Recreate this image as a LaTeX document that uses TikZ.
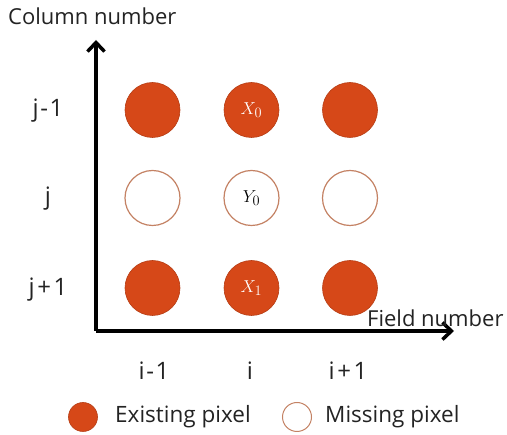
\documentclass[tikz,border=0pt]{standalone}
\usepackage{fontspec}
\setmainfont{Open Sans}
\usetikzlibrary{arrows.meta}
\definecolor{px}{RGB}{214,72,24}
\definecolor{pxedge}{RGB}{196,130,100}
\definecolor{txt}{RGB}{35,35,35}
\newcommand{\lsp}{\hspace{1.5pt}}
\newcommand{\psp}{\hspace{2.5pt}}
\tikzset{
  exist/.style={circle,fill=px,draw=px!85!black,line width=0.6pt,minimum size=55pt,inner sep=0pt,font=\fontsize{19}{22}\selectfont},
  missing/.style={circle,fill=white,draw=pxedge,line width=1.2pt,minimum size=55pt,inner sep=0pt,font=\fontsize{19}{22}\selectfont},
  axis/.style={line width=3.5pt,-{Straight Barb[length=9pt,width=17pt,line width=3.5pt]}},
  lab/.style={font=\fontsize{22}{26}\selectfont,inner sep=0pt,text=txt},
  leg/.style={font=\fontsize{22.5}{26}\selectfont,inner sep=0pt,text=txt},
  big/.style={font=\fontsize{24}{28}\selectfont,inner sep=0pt,text=txt},
}
\begin{document}
\begin{tikzpicture}[x=1pt,y=-1pt]
\useasboundingbox (0,0) rectangle (507,435);
\coordinate (o) at (96,331);
\coordinate (ytip) at (96,40);
\coordinate (xtip) at (454,331);
\draw[axis] (o) -- (ytip);
\draw[axis] (o) -- (xtip);
\node[lab,anchor=west] (ylab) at (8,16) {Column number};
\node[lab,anchor=west] (xlab) at (367,318) {Field number};
% circles
\node[exist] (a1) at (152.5,110) {};
\node[exist] (a2) at (251.5,110) {\color{white}$X_0$};
\node[exist] (a3) at (350,110) {};
\node[missing] (b1) at (152.5,198) {};
\node[missing] (b2) at (251.5,198) {$Y_0$};
\node[missing] (b3) at (350,198) {};
\node[exist] (c1) at (152.5,288) {};
\node[exist] (c2) at (251.5,288) {\color{white}$X_1$};
\node[exist] (c3) at (350,288) {};
% row labels
\node[big] (r1) at (48,111) {j\lsp-\lsp1};
\node[big] (r2) at (48,199) {j};
\node[big] (r3) at (48,290) {j\psp+\psp1};
% column labels
\node[big] (k1) at (154,371) {i\lsp-\lsp1};
\node[big] (k2) at (250,371) {i};
\node[big] (k3) at (348,371) {i\psp+\psp1};
% legend
\node[exist,minimum size=29pt] (le) at (83,417) {};
\node[leg,anchor=west] (let) at (115,417) {Existing pixel};
\node[missing,minimum size=29pt,line width=1pt] (lm) at (297,417) {};
\node[leg,anchor=west] (lmt) at (325,417) {Missing pixel};
\end{tikzpicture}
\end{document}
